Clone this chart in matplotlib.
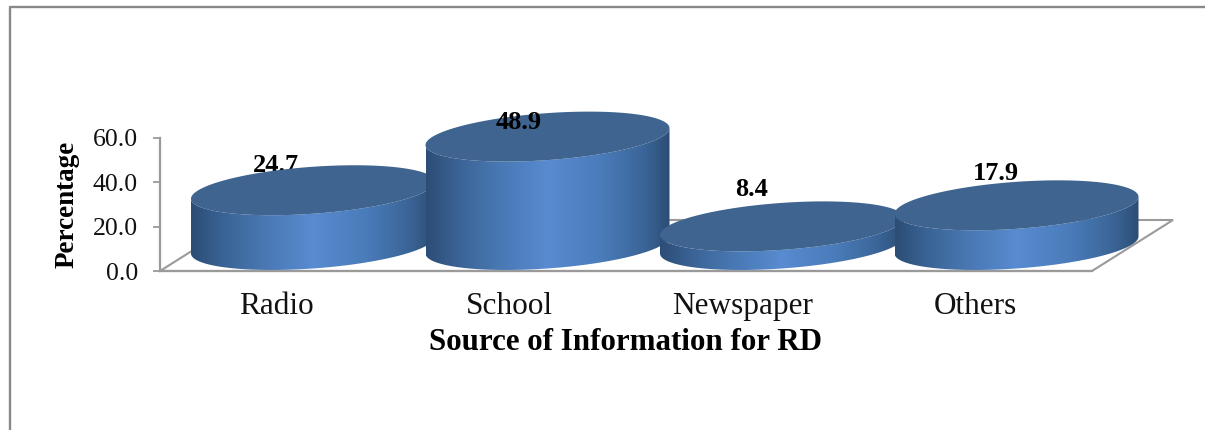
import numpy as np
import matplotlib
matplotlib.use("Agg")
import matplotlib.pyplot as plt
from matplotlib.colors import LinearSegmentedColormap
from matplotlib.patches import PathPatch
from matplotlib.path import Path

categories = ["Radio", "School", "Newspaper", "Others"]
values = [24.7, 48.9, 8.4, 17.9]
y_ticks = [0, 20, 40, 60]
x_title = "Source of Information for RD"
y_title = "Percentage"
# Placement of each value label relative to its cylinder top, in pixels
label_dx = [-37, -28.5, -30, -20.5]
label_dy = [25, 14, 37, 32]
# Stacking of each value label: 3 sits behind the cylinders, 20 in front
label_z = [3, 20, 3, 3]

W, H = 1205, 430
plt.rcParams["font.family"] = ["Liberation Serif", "DejaVu Serif"]
fig = plt.figure(figsize=(W / 100, H / 100), dpi=100, facecolor="white")

# Front plane of the chart, in pixels
L, R, B, T = 160, 1092, 271, 138
ax = fig.add_axes([L / W, 1 - B / H, (R - L) / W, (B - T) / H])
ax.set_xlim(-0.5, 3.5)
ax.set_ylim(0, 60)
ax.patch.set_alpha(0)
px_x = (R - L) / 4
px_y = (B - T) / 60

GRAY = "#9a9a9a"
for s in ("top", "right"):
    ax.spines[s].set_visible(False)
for s in ("left", "bottom"):
    ax.spines[s].set_color(GRAY)
    ax.spines[s].set_linewidth(1.6)
ax.set_yticks(y_ticks)
ax.set_yticklabels([f"{v:.1f}" for v in y_ticks], fontsize=18.5, color="#111111")
ax.tick_params(axis="y", length=5, width=1.3, color=GRAY, pad=11)
ax.set_xticks(range(4))
ax.set_xticklabels(categories, fontsize=22.5, color="#111111")
ax.tick_params(axis="x", length=0, pad=15)
ax.set_xlabel(x_title, fontsize=22.3, fontweight="bold")
ax.xaxis.set_label_coords((625.5 - L) / (R - L), (B - 328) / (B - T), transform=ax.transAxes)
ax.set_ylabel(y_title, fontsize=19.5, fontweight="bold")
ax.yaxis.set_label_coords((80 - L) / (R - L), 0.5, transform=ax.transAxes)

# Floor parallelogram (depth offset in pixels converted to data units)
dx, dy = 81 / px_x, 51 / px_y
ax.plot([-0.5, -0.5 + dx, 3.5 + dx, 3.5, -0.5], [0, dy, dy, 0, 0],
        color=GRAY, lw=1.5, clip_on=False, zorder=1, solid_joinstyle="miter")

# Cylinders
a = 122 / px_x
b = 23.5 / px_y
k = 8.5 / px_y
spacing = 234.5 / px_x
x0 = (313 - L) / px_x - 0.5
base = 26 / px_y
t = np.linspace(0, 2 * np.pi, 241)
cmap = LinearSegmentedColormap.from_list(
    "side",
    [(0, "#2c4d75"), (0.14, "#3b6597"), (0.32, "#4a7ab6"), (0.5, "#588bd0"),
     (0.72, "#4a7cba"), (0.9, "#3a6496"), (1, "#2c4d75")])
grad = np.linspace(0, 1, 256)[None, :]
TOP = "#3e648f"


def ellipse(cx, cy):
    return cx + a * np.cos(t), cy + b * np.sin(t) + k * np.cos(t)


for i, v in enumerate(values):
    cx = x0 + i * spacing
    top = base + v
    z = 5 + i
    xb, yb = ellipse(cx, base)
    xt, yt = ellipse(cx, top)
    poly = np.vstack([
        np.column_stack([xb, yb])[120:241],
        np.column_stack([xt, yt])[::-1][0:121],
    ])
    clip = PathPatch(Path(np.vstack([poly, poly[:1]])), transform=ax.transData,
                     fc="none", ec="none")
    ax.add_patch(clip)
    im = ax.imshow(grad, extent=[cx - a, cx + a, base - 30, top + 30], cmap=cmap,
                   aspect="auto", zorder=z, interpolation="bilinear")
    im.set_clip_box(fig.bbox)
    im.set_clip_path(clip)
    ax.fill(xt, yt, color=TOP, lw=0, zorder=z + 0.5, clip_on=False)
    ax.text(cx + label_dx[i] / px_x, top + label_dy[i] / px_y, f"{v:.1f}",
            ha="center", va="center", fontsize=19, fontweight="bold",
            color="black", zorder=label_z[i], clip_on=False)

ax.set_xlim(-0.5, 3.5)
ax.set_ylim(0, 60)

# Outer chart frame
fig.add_artist(plt.Line2D([9.5 / W, 9.5 / W, 1], [0, 1 - 7 / H, 1 - 7 / H],
                          color="#888888", lw=1.7))
fig.savefig("out.png", dpi=100)
